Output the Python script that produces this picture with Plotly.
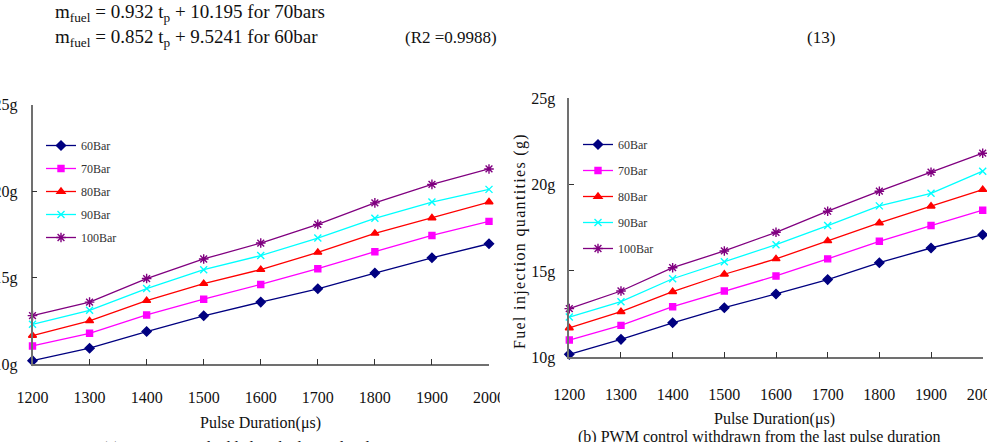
import plotly.graph_objects as go

pulse = [1200, 1300, 1400, 1500, 1600, 1700, 1800, 1900, 2000]
series_names = ["60Bar", "70Bar", "80Bar", "90Bar", "100Bar"]

# (a) PWM control added to the last pulse duration
a60 = [10.21, 10.93, 11.89, 12.80, 13.59, 14.36, 15.27, 16.15, 16.96]
a70 = [11.06, 11.79, 12.85, 13.76, 14.61, 15.52, 16.50, 17.44, 18.25]
a80 = [11.66, 12.51, 13.68, 14.66, 15.47, 16.46, 17.56, 18.45, 19.37]
a90 = [12.31, 13.12, 14.37, 15.46, 16.28, 17.29, 18.43, 19.37, 20.10]
a100 = [12.81, 13.59, 14.95, 16.08, 17.00, 18.08, 19.32, 20.39, 21.28]

# (b) PWM control withdrawn from the last pulse duration
b60 = [10.17, 11.04, 12.00, 12.87, 13.67, 14.50, 15.48, 16.33, 17.10]
b70 = [11.00, 11.85, 12.93, 13.84, 14.71, 15.70, 16.72, 17.63, 18.52]
b80 = [11.70, 12.64, 13.80, 14.81, 15.70, 16.74, 17.78, 18.75, 19.71]
b90 = [12.33, 13.22, 14.55, 15.54, 16.52, 17.63, 18.77, 19.50, 20.78]
b100 = [12.82, 13.84, 15.19, 16.16, 17.24, 18.46, 19.62, 20.72, 21.82]

y_ticks = [10, 15, 20, 25]
y_ticktext = ["10g", "15g", "20g", "25g"]

colors = ["#000080", "#FF00FF", "#FF0000", "#00FFFF", "#800080"]
symbols = ["diamond", "square", "triangle-up", "x-thin", "asterisk"]
msizes = [7, 6, 7, 7, 8]

SERIF = "Liberation Serif"
W, H = 987, 442

def px(x):
    return x / W

def py(y):
    return 1 - y / H

fig = go.Figure()

for i, (name, ya, yb) in enumerate(zip(series_names, [a60, a70, a80, a90, a100],
                                        [b60, b70, b80, b90, b100])):
    mk = dict(symbol=symbols[i], size=msizes[i], color=colors[i],
              line=dict(color=colors[i], width=1.4))
    fig.add_trace(go.Scatter(x=pulse, y=ya, name=name, mode="lines+markers",
                             line=dict(color=colors[i], width=1.3), marker=mk,
                             xaxis="x", yaxis="y", legend="legend",
                             legendgroup="a" + name, cliponaxis=False))
    fig.add_trace(go.Scatter(x=pulse, y=yb, name=name, mode="lines+markers",
                             line=dict(color=colors[i], width=1.3), marker=mk,
                             xaxis="x2", yaxis="y2", legend="legend2",
                             legendgroup="b" + name, cliponaxis=False))

axis_common = dict(showgrid=False, zeroline=False, showline=True,
                   linecolor="#707070", linewidth=1.5, ticks="inside",
                   tickcolor="#333", tickwidth=1, automargin=False,
                   ticklabeloverflow="allow",
                   tickfont=dict(family=SERIF, size=16, color="#111"))

fig.update_layout(
    width=W, height=H,
    margin=dict(l=0, r=0, t=0, b=0, autoexpand=False),
    paper_bgcolor="white", plot_bgcolor="white",
    showlegend=True,
    xaxis=dict(domain=[px(32.5), px(489)], range=[1200, 2000], tickvals=pulse,
               ticklen=6, anchor="y", ticklabelstandoff=18, **axis_common),
    yaxis=dict(domain=[py(364.3), py(104.5)], range=[10, 25], tickvals=y_ticks,
               ticktext=y_ticktext, ticklen=5, anchor="x", ticklabelstandoff=10,
               **axis_common),
    xaxis2=dict(domain=[px(569.3), px(982.7)], range=[1200, 2000], tickvals=pulse,
                ticklen=6, anchor="y2", ticklabelstandoff=22, **axis_common),
    yaxis2=dict(domain=[py(357.3), py(98.3)], range=[10, 25], tickvals=y_ticks,
                ticktext=y_ticktext, ticklen=5, anchor="x2", ticklabelstandoff=9,
                **axis_common),
    legend=dict(x=px(41), y=py(131), xanchor="left", yanchor="top",
                bgcolor="rgba(0,0,0,0)", tracegroupgap=4,
                font=dict(family=SERIF, size=12, color="#333")),
    legend2=dict(x=px(578), y=py(130), xanchor="left", yanchor="top",
                 bgcolor="rgba(0,0,0,0)", tracegroupgap=7,
                 font=dict(family=SERIF, size=12, color="#333")),
)

# cover the clipped end of the left chart's last tick label (the scan is cropped there)
fig.add_shape(type="rect", xref="paper", yref="paper", layer="above",
              x0=px(500), x1=px(511), y0=py(410), y1=py(378),
              fillcolor="white", line=dict(width=0))

def ann(text, x, y, size=16, xanchor="center", angle=0):
    fig.add_annotation(text=text, xref="paper", yref="paper", x=px(x), y=py(y),
                       xanchor=xanchor, yanchor="middle", showarrow=False,
                       textangle=angle,
                       font=dict(family=SERIF, size=size, color="#111"))

ann("m<sub>fuel</sub> = 0.932 t<sub>p</sub> + 10.195 for 70bars", 53, 13, 19, "left")
ann("m<sub>fuel</sub> = 0.852 t<sub>p</sub> + 9.5241 for 60bar", 53, 38, 19, "left")
ann("(R2 =0.9988)", 403, 37, 17, "left")
ann("(13)", 805, 37, 17, "left")

ann("Pulse Duration(\u03bcs)", 260, 423, 16)
ann("Pulse Duration(\u03bcs)", 774, 419, 16)
ann("(a) PWM control added to the last pulse duration", 258, 448, 16)
ann("(b) PWM control withdrawn from the last pulse duration", 759, 437, 16)

hs = "\u200a"
title_b = hs.join(list("Fuel injection quantities (g)"))
ann(title_b, 520, 242, 16, angle=-90)

fig.write_html("out.html")
